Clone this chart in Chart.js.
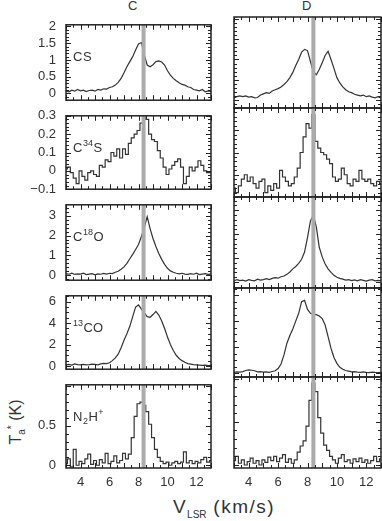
<!DOCTYPE html>
<html>
<head>
<meta charset="utf-8">
<script src="https://cdn.jsdelivr.net/npm/chart.js@4.4.0/dist/chart.umd.min.js"></script>
<style>
body { margin:0; background:#fff; width:382px; height:521px; overflow:hidden; position:relative; font-family:"Liberation Sans", Arial, sans-serif; color:#333; }
.panel { position:absolute; }
.ttl { position:absolute; top:-1px; font-size:13px; line-height:13px; }
#ytitle { position:absolute; left:-24px; top:412px; width:80px; height:20px; line-height:20px; font-size:16px; text-align:center; transform:rotate(-90deg); white-space:nowrap; }
#xtitle { position:absolute; left:124px; top:497px; width:200px; line-height:20px; font-size:19px; letter-spacing:1.5px; text-align:center; white-space:nowrap; }
sub, sup { font-size:10px; line-height:0; letter-spacing:0; }
</style>
</head>
<body>
<div class="ttl" style="left:128px;">C</div>
<div class="ttl" style="left:302px;">D</div>
<div id="ytitle">T<sub>a</sub><sup>*</sup> (K)</div>
<div id="xtitle">V<sub>LSR</sub> (km/s)</div>
<script>
// velocity channels (km/s)
const vel = [3,3.2,3.4,3.6,3.8,4,4.2,4.4,4.6,4.8,5,5.2,5.4,5.6,5.8,6,6.2,6.4,6.6,6.8,7,7.2,7.4,7.6,7.8,8,8.2,8.4,8.6,8.8,9,9.2,9.4,9.6,9.8,10,10.2,10.4,10.6,10.8,11,11.2,11.4,11.6,11.8,12,12.2,12.4,12.6,12.8,13]

// spectra, position C (left) and D (right)
const csC = [0.08,0.05,0.1,0.07,0.12,0.08,0.1,0.06,0.09,0.1,
    0.07,0.12,0.1,0.14,0.13,0.18,0.2,0.25,0.33,0.45,
    0.62,0.8,0.95,1.1,1.3,1.48,1.52,1.15,0.85,0.8,
    0.86,0.95,0.97,0.94,0.85,0.68,0.55,0.45,0.38,0.32,
    0.27,0.25,0.2,0.18,0.12,0.1,0.08,0.12,0.05,0.08,0.06]
const csD = [0.05,0.08,0.1,0.08,0.1,0.07,0.08,0.05,0.06,0.12,
    0.15,0.18,0.16,0.22,0.25,0.28,0.32,0.38,0.45,0.55,
    0.68,0.85,1.0,1.18,1.25,1.22,0.95,0.7,0.62,0.75,
    0.92,1.1,1.2,1.0,0.78,0.55,0.42,0.32,0.25,0.2,
    0.18,0.14,0.12,0.1,0.12,0.08,0.1,0.07,0.05,0.08,0.04]
const c34sC = [0.01,0.02,-0.01,-0.04,-0.07,0.0,-0.03,-0.05,-0.01,0.0,
    -0.02,-0.03,0.03,0.02,0.06,0.05,0.1,0.08,0.12,0.07,
    0.12,0.09,0.15,0.18,0.2,0.22,0.26,0.29,0.28,0.2,
    0.17,0.16,0.11,0.07,0.02,-0.02,0.01,0.03,0.05,0.065,
    0.02,-0.07,-0.03,0.02,0.0,0.02,0.055,0.03,0.0,-0.01,-0.01]
const c34sD = [-0.06,-0.08,-0.05,-0.02,0.0,-0.03,-0.01,-0.04,-0.06,-0.03,
    -0.02,-0.08,-0.05,-0.07,-0.04,-0.06,0.02,-0.01,-0.03,-0.05,
    -0.04,-0.01,0.03,0.1,0.17,0.23,0.21,0.27,0.15,0.12,
    0.1,0.09,0.07,0.05,-0.01,-0.03,-0.02,0.03,0.0,-0.04,
    -0.05,-0.02,-0.03,0.02,-0.02,-0.03,-0.02,-0.04,-0.05,-0.03,-0.04]
const c18oC = [0.08,0.05,0.1,0.04,0.07,0.06,0.1,0.03,0.06,0.08,
    0.02,0.07,0.05,0.09,0.06,0.1,0.08,0.15,0.2,0.3,
    0.42,0.6,0.83,1.05,1.3,1.55,1.95,2.4,2.95,2.35,
    1.85,1.45,1.1,0.8,0.55,0.35,0.22,0.15,0.1,0.07,
    0.1,0.06,0.04,0.08,0.05,0.1,0.03,0.06,0.08,0.04,0.06]
const c18oD = [0.05,0.1,0.06,0.08,0.04,0.1,0.07,0.05,0.12,0.08,
    0.1,0.14,0.1,0.15,0.18,0.16,0.22,0.25,0.32,0.42,
    0.55,0.65,0.78,0.95,1.25,1.85,2.55,2.8,2.3,1.45,
    1.05,0.75,0.55,0.4,0.28,0.2,0.15,0.12,0.08,0.1,
    0.06,0.09,0.05,0.1,0.07,0.04,0.08,0.1,0.05,0.07,0.05]
const co13C = [0.1,0.15,0.08,0.2,0.12,0.1,0.15,0.1,0.12,0.18,
    0.15,0.1,0.2,0.25,0.22,0.3,0.5,0.75,1.1,1.7,
    2.4,3.0,3.7,4.6,5.5,5.7,5.3,4.95,4.6,4.55,
    4.8,5.1,4.75,4.2,3.5,2.7,2.0,1.45,1.0,0.7,
    0.5,0.35,0.22,0.18,0.12,0.1,0.08,0.05,0.08,0.04,0.05]
const co13D = [0.05,0.1,0.08,0.12,0.2,0.25,0.22,0.18,0.1,0.12,
    0.08,0.1,0.06,0.12,0.18,0.35,0.7,1.4,2.3,2.9,
    3.4,4.0,4.6,5.5,5.6,4.9,4.6,4.5,4.5,4.4,
    4.2,3.7,2.8,1.9,1.2,0.75,0.45,0.3,0.2,0.15,
    0.1,0.12,0.08,0.05,0.1,0.06,0.04,0.08,0.05,0.03,0.05]
const n2hC = [0.02,0.08,-0.02,0.2,0.0,0.05,0.02,0.08,0.14,0.01,
    0.06,0.0,0.07,0.03,0.15,0.02,0.05,0.12,0.03,0.06,
    0.15,0.08,0.14,0.35,0.62,0.78,0.8,0.76,0.68,0.52,
    0.35,0.2,0.1,0.05,0.02,0.04,0.0,0.03,0.05,0.02,
    0.04,0.17,0.03,0.06,0.02,0.05,0.03,0.07,0.1,0.04,0.06]
const n2hD = [0.05,0.1,0.02,0.06,0.0,0.04,0.08,0.02,0.05,0.0,
    0.06,0.03,0.09,0.05,0.1,0.04,0.08,0.12,0.03,0.07,
    0.02,0.06,0.15,0.22,0.28,0.45,0.75,0.95,0.85,0.55,
    0.37,0.23,0.17,0.1,0.06,0.02,0.08,0.12,0.04,0.06,
    0.02,0.07,0.04,0.08,0.03,0.06,0.02,0.05,0.1,0.04,0.07]

// tick labels
const xTickLabels = [4, 6, 8, 10, 12]
const yTicksCS = [0, 0.5, 1, 1.5, 2]
const yTicksC34S = [-0.1, 0, 0.1, 0.2, 0.3]
const yTicksC18O = [0, 1, 2, 3]
const yTicks13CO = [0, 2, 4, 6]
const yTicksN2H = [0, 0.5]

// systemic velocity marker
const vLineC = 8.35
const vLineD = 8.4

const rows = [
    {label: [['C'], ['S']], c: csC, d: csD, min: -0.2, max: 2.05, ticks: yTicksCS, major: 0.5, minor: 0.1, step: false},
    {label: [['C'], ['34', 'sup'], ['S']], c: c34sC, d: c34sD, min: -0.1, max: 0.3, ticks: yTicksC34S, major: 0.1, minor: 0.02, step: true},
    {label: [['C'], ['18', 'sup'], ['O']], c: c18oC, d: c18oD, min: -0.25, max: 3.55, ticks: yTicksC18O, major: 1, minor: 0.2, step: false},
    {label: [['13', 'sup'], ['CO']], c: co13C, d: co13D, min: -0.3, max: 6.55, ticks: yTicks13CO, major: 2, minor: 0.5, step: false},
    {label: [['N'], ['2', 'sub'], ['H'], ['+', 'sup']], c: n2hC, d: n2hD, min: -0.035, max: 1.02, ticks: yTicksN2H, major: 0.5, minor: 0.1, step: true},
]

const rowTop = [17, 108, 197, 288, 377, 468]
const FONT = '"Liberation Sans", Arial, sans-serif'

function near(v, step){
    const r = v / step
    return Math.abs(r - Math.round(r)) < 1e-6
}

const framePlugin = {
    id: 'frame',
    afterDatasetsDraw(chart, args, o){
        const ctx = chart.ctx
        const a = chart.chartArea
        const x = chart.scales.x
        const y = chart.scales.y
        ctx.save()
        ctx.strokeStyle = '#222'
        ctx.lineWidth = 1
        ctx.beginPath()
        for(let i = 0; i <= 20; i++){
            const v = 3 + i * 0.5
            const px = Math.round(x.getPixelForValue(v)) + 0.5
            const len = near(v, 1) ? 5 : 3
            ctx.moveTo(px, a.bottom); ctx.lineTo(px, a.bottom - len)
            ctx.moveTo(px, a.top); ctx.lineTo(px, a.top + len)
        }
        const n0 = Math.ceil(o.min / o.minor - 1e-6)
        const n1 = Math.floor(o.max / o.minor + 1e-6)
        for(let n = n0; n <= n1; n++){
            const v = n * o.minor
            const py = Math.round(y.getPixelForValue(v)) + 0.5
            const len = near(v, o.major) ? 5 : 3
            ctx.moveTo(a.left, py); ctx.lineTo(a.left + len, py)
            ctx.moveTo(a.right, py); ctx.lineTo(a.right - len, py)
        }
        ctx.stroke()
        ctx.lineWidth = 1.5
        ctx.strokeRect(a.left, a.top, a.right - a.left, a.bottom - a.top)

        if(o.label){
            let tx = a.left + 7
            const base = a.top + 36
            ctx.fillStyle = '#333'
            ctx.textBaseline = 'alphabetic'
            for(const seg of o.label){
                let size = 13, dy = 0
                if(seg[1] == 'sup'){ size = 9; dy = -6 }
                if(seg[1] == 'sub'){ size = 9; dy = 3 }
                ctx.font = size + 'px ' + FONT
                ctx.fillText(seg[0], tx, base + dy)
                tx += ctx.measureText(seg[0]).width + 0.5
            }
        }
        ctx.restore()
    }
}

function fmt(v){
    let s = String(Math.round(v * 100) / 100)
    if(v < 0) s = '\u2212' + s.slice(1)
    return s
}

function makePanel(row, r, isLeft){
    const isBottom = r == rows.length - 1
    const top = rowTop[r], bottom = rowTop[r + 1]
    const box = document.createElement('div')
    box.className = 'panel'
    const left = isLeft ? 0 : 224
    const width = isLeft ? 212 : 158
    const height = (bottom - top) + 10 + (isBottom ? 24 : 10)
    box.style.left = left + 'px'
    box.style.top = (top - 10) + 'px'
    box.style.width = width + 'px'
    box.style.height = height + 'px'
    const canvas = document.createElement('canvas')
    box.appendChild(canvas)
    document.body.appendChild(box)

    const vals = isLeft ? row.c : row.d
    const vLine = isLeft ? vLineC : vLineD
    const pts = []
    for(let i = 0; i < vel.length; i++) pts.push({x: vel[i], y: vals[i]})

    new Chart(canvas.getContext('2d'), {
        type: 'line',
        data: {
            datasets: [
                {
                    data: [{x: vLine, y: row.min}, {x: vLine, y: row.max}],
                    borderColor: '#ababab',
                    borderWidth: 4,
                    pointRadius: 0,
                    order: 0
                },
                {
                    data: pts,
                    stepped: row.step ? 'middle' : false,
                    tension: 0,
                    borderColor: '#333',
                    borderWidth: 1.2,
                    pointRadius: 0,
                    order: 1
                }
            ]
        },
        options: {
            responsive: true,
            maintainAspectRatio: false,
            animation: false,
            events: [],
            layout: {padding: {top: 10, bottom: isBottom ? 0 : 10, left: isLeft ? 0 : 10, right: 1}},
            plugins: {
                legend: {display: false},
                tooltip: {enabled: false},
                frame: {min: row.min, max: row.max, major: row.major, minor: row.minor, label: isLeft ? row.label : null}
            },
            scales: {
                x: {
                    type: 'linear', min: 3, max: 13,
                    display: isBottom,
                    grid: {display: false, drawTicks: false},
                    border: {display: false},
                    afterBuildTicks: s => { s.ticks = xTickLabels.map(v => ({value: v})) },
                    afterFit: s => { if(isBottom) s.height = 24 },
                    ticks: {font: {family: FONT, size: 13}, color: '#333', padding: 7, maxRotation: 0, autoSkip: false}
                },
                y: {
                    type: 'linear', min: row.min, max: row.max,
                    display: isLeft,
                    grid: {display: false, drawTicks: false},
                    border: {display: false},
                    afterBuildTicks: s => { s.ticks = row.ticks.map(v => ({value: v})) },
                    afterFit: s => { if(isLeft) s.width = 66 },
                    ticks: {font: {family: FONT, size: 13}, color: '#333', padding: 10, autoSkip: false, callback: v => fmt(v)}
                }
            }
        },
        plugins: [framePlugin]
    })
}

for(let r = 0; r < rows.length; r++){
    makePanel(rows[r], r, true)
    makePanel(rows[r], r, false)
}
</script>
</body>
</html>
